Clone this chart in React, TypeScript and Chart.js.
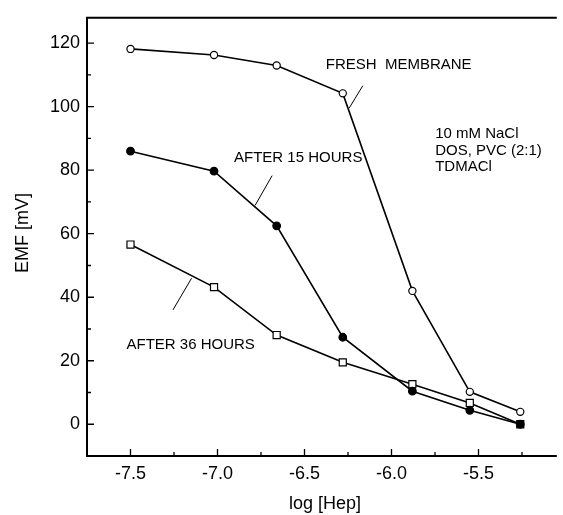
import React, { useEffect, useRef } from "react";
import { Chart, registerables } from "chart.js";

Chart.register(...registerables);

// ---- data ----
const logHep = [-7.5, -7.02, -6.66, -6.28, -5.88, -5.55, -5.26];
const freshMembrane = [118.2, 116.3, 113.0, 104.2, 42.0, 10.2, 3.9];
const after15Hours = [86.0, 79.7, 62.5, 27.4, 10.4, 4.4, 0.0];
const after36Hours = [56.6, 43.2, 28.1, 19.5, 12.6, 6.7, 0.0];

const xTickValues = [-7.5, -7.0, -6.5, -6.0, -5.5];
const xMinorTickValues = [-7.25, -6.75, -6.25, -5.75, -5.25];
const yTickValues = [0, 20, 40, 60, 80, 100, 120];
const yMinorTickValues = [10, 30, 50, 70, 90, 110];

const xTitle = "log [Hep]";
const yTitle = "EMF [mV]";

// annotation texts (placed in data coordinates)
const notes = [
  { lines: ["FRESH  MEMBRANE"], x: -6.378, y: 113.2 },
  { lines: ["10 mM NaCl", "DOS, PVC (2:1)", "TDMACl"], x: -5.749, y: 91.3 },
  { lines: ["AFTER 15 HOURS"], x: -6.905, y: 83.8 },
  { lines: ["AFTER 36 HOURS"], x: -7.523, y: 25.1 },
];
const leaders = [
  { x1: -6.165, y1: 106.6, x2: -6.244, y2: 99.5 },
  { x1: -6.686, y1: 78.3, x2: -6.784, y2: 68.9 },
  { x1: -7.149, y1: 46.0, x2: -7.256, y2: 36.0 },
];

const FONT = "'Liberation Sans', Arial, Helvetica, sans-serif";

const toPoints = (ys: number[]) => logHep.map((x, i) => ({ x, y: ys[i] }));

const framePlugin = {
  id: "frame",
  afterDraw(chart: any) {
    const { ctx, chartArea } = chart;
    const xs = chart.scales.x;
    const ys = chart.scales.y;
    const { left, right, top, bottom } = chartArea;
    ctx.save();
    ctx.strokeStyle = "#000";
    ctx.lineCap = "butt";
    // axes lines: left, bottom, top
    ctx.lineWidth = 2;
    ctx.beginPath();
    ctx.moveTo(left, top);
    ctx.lineTo(left, bottom);
    ctx.moveTo(left - 1, bottom);
    ctx.lineTo(right, bottom);
    ctx.moveTo(left - 1, top);
    ctx.lineTo(right, top);
    ctx.stroke();
    // ticks (inward)
    ctx.lineWidth = 1.3;
    ctx.beginPath();
    yTickValues.forEach((v) => {
      const p = ys.getPixelForValue(v);
      ctx.moveTo(left, p);
      ctx.lineTo(left + 7, p);
    });
    yMinorTickValues.forEach((v) => {
      const p = ys.getPixelForValue(v);
      ctx.moveTo(left, p);
      ctx.lineTo(left + 4, p);
    });
    xTickValues.forEach((v) => {
      const p = xs.getPixelForValue(v);
      ctx.moveTo(p, bottom);
      ctx.lineTo(p, bottom - 7);
    });
    xMinorTickValues.forEach((v) => {
      const p = xs.getPixelForValue(v);
      ctx.moveTo(p, bottom);
      ctx.lineTo(p, bottom - 4);
    });
    ctx.stroke();
    // leader lines
    ctx.lineWidth = 1;
    ctx.beginPath();
    leaders.forEach((l) => {
      ctx.moveTo(xs.getPixelForValue(l.x1), ys.getPixelForValue(l.y1));
      ctx.lineTo(xs.getPixelForValue(l.x2), ys.getPixelForValue(l.y2));
    });
    ctx.stroke();
    // notes
    ctx.fillStyle = "#000";
    ctx.font = `15px ${FONT}`;
    ctx.textAlign = "left";
    ctx.textBaseline = "middle";
    notes.forEach((n) => {
      const px = xs.getPixelForValue(n.x);
      const py = ys.getPixelForValue(n.y);
      n.lines.forEach((t, i) => ctx.fillText(t, px, py + i * 16.2));
    });
    // axis titles
    ctx.font = `18px ${FONT}`;
    ctx.textAlign = "center";
    ctx.textBaseline = "middle";
    ctx.fillText(xTitle, (left + right) / 2 + 3, 504);
    ctx.save();
    ctx.translate(23, (top + bottom) / 2 - 4);
    ctx.rotate(-Math.PI / 2);
    ctx.fillText(yTitle, 0, 0);
    ctx.restore();
    ctx.restore();
  },
};

export default function App() {
  const ref = useRef<HTMLCanvasElement | null>(null);
  useEffect(() => {
    document.body.style.margin = "0";
    const canvas = ref.current;
    if (!canvas) return;
    const common = {
      showLine: true,
      borderColor: "#000",
      borderWidth: 1.6,
      pointBorderWidth: 1.2,
      pointBorderColor: "#000",
      tension: 0,
    };
    const chart = new Chart(canvas, {
      type: "scatter",
      data: {
        datasets: [
          {
            ...common,
            label: "After 15 hours",
            data: toPoints(after15Hours),
            pointStyle: "circle",
            pointRadius: 3.8,
            pointBackgroundColor: "#000",
          },
          {
            ...common,
            label: "After 36 hours",
            data: toPoints(after36Hours),
            pointStyle: "rect",
            pointRadius: 5,
            pointBackgroundColor: "#fff",
          },
          {
            ...common,
            label: "Fresh membrane",
            data: toPoints(freshMembrane),
            pointStyle: "circle",
            pointRadius: 3.6,
            pointBackgroundColor: "#fff",
          },
        ],
      },
      options: {
        responsive: false,
        animation: false,
        layout: { padding: { top: 13, right: 0, left: 0, bottom: 0 } },
        plugins: { legend: { display: false }, tooltip: { enabled: false } },
        scales: {
          x: {
            type: "linear",
            min: -7.75,
            max: -5.05,
            grid: { display: false, drawTicks: false },
            border: { display: false },
            afterBuildTicks: (s: any) => {
              s.ticks = xTickValues.map((v) => ({ value: v }));
            },
            afterFit: (s: any) => {
              s.height = 59;
            },
            ticks: {
              color: "#000",
              padding: 7,
              maxRotation: 0,
              font: { family: FONT, size: 18 },
              callback: (v: any) => Number(v).toFixed(1),
            },
          },
          y: {
            type: "linear",
            min: -10,
            max: 128,
            grid: { display: false, drawTicks: false },
            border: { display: false },
            afterBuildTicks: (s: any) => {
              s.ticks = yTickValues.map((v) => ({ value: v }));
            },
            afterFit: (s: any) => {
              s.width = 87;
            },
            ticks: {
              color: "#000",
              padding: 7,
              font: { family: FONT, size: 18 },
              callback: (v: any) => String(v),
            },
          },
        },
      },
      plugins: [framePlugin],
    } as any);
    return () => chart.destroy();
  }, []);
  return (
    <div style={{ width: 563, height: 515, background: "#fff" }}>
      <canvas ref={ref} width={563} height={515} style={{ display: "block" }} />
    </div>
  );
}
